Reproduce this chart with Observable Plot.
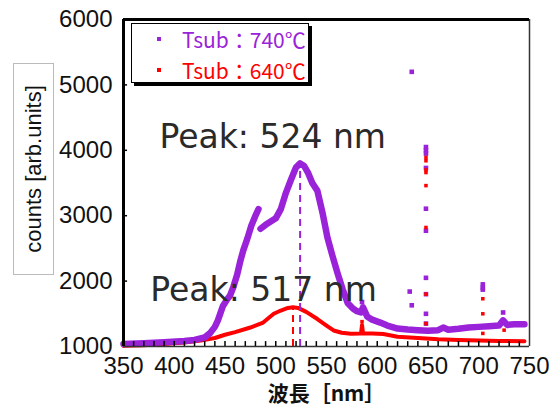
<!DOCTYPE html>
<html>
<head>
<meta charset="utf-8">
<script src="https://cdn.jsdelivr.net/npm/d3@7"></script>
<script src="https://cdn.jsdelivr.net/npm/@observablehq/plot@0.6"></script>
<style>
  html, body { margin: 0; padding: 0; background: #fff; }
  #wrap { position: relative; width: 554px; height: 407px; }
  #ylab {
    position: absolute; left: 13px; top: 63px; width: 41px; height: 212px;
    border: 1px solid #bbb; box-sizing: border-box; background: #fff;
  }
  #ylab span {
    position: absolute; left: 50%; top: 50%;
    transform: translate(-50%, -50%) rotate(-90deg);
    white-space: nowrap; font-family: "Liberation Sans", Arial, sans-serif;
    font-size: 22px; color: #111;
  }
  #legend {
    position: absolute; left: 131px; top: 23px; width: 178px; height: 60px;
    border: 1.5px solid #000; box-sizing: border-box; background: #fff;
    box-shadow: 3px 3px 0 #000;
    font-family: "Noto Sans CJK JP", sans-serif; font-size: 21px;
  }
  .row { position: absolute; left: 0; white-space: nowrap; line-height: 22px; }
  .row i { position: absolute; width: 4px; height: 4px; left: 25px; top: 9px; }
  .row b { position: absolute; left: 50px; top: 0; font-weight: normal; }
</style>
</head>
<body>
<div id="wrap">
  <div id="chart"></div>
  <div id="ylab"><span>counts [arb.units]</span></div>
  <div id="legend">
    <div class="row" style="top:4px"><i style="background:#9a22d8"></i><b style="color:#9a22d8">Tsub：740℃</b></div>
    <div class="row" style="top:35px"><i style="background:#ff0000"></i><b style="color:#ff0000">Tsub：640℃</b></div>
  </div>
</div>
<script>
// ---- data ----
const purpleColor = "#9a22d8";
const redColor = "#ff0000";

// Tsub 740 °C spectrum (two segments, broken at ~484 nm)
const purpleX1 = [350, 370, 390, 410, 420, 430, 435, 440, 443, 448, 452, 455, 458, 462, 465, 468, 472, 476, 480, 483];
const purpleY1 = [1040, 1050, 1065, 1085, 1100, 1140, 1200, 1300, 1400, 1620, 1720, 1780, 1900, 2100, 2300, 2470, 2650, 2850, 3000, 3100];
const purpleX2 = [485, 490, 495, 500, 505, 510, 515, 520, 524, 528, 532, 536, 541, 546, 551, 556, 561, 566, 571, 576, 580, 584, 586, 590, 595, 603, 610, 620, 630, 640, 650, 660, 665, 670, 680, 690, 700, 710, 720, 724, 728, 735, 745];
const purpleY2 = [2800, 2860, 2910, 2960, 3100, 3350, 3550, 3740, 3800, 3760, 3650, 3500, 3380, 3050, 2660, 2380, 2115, 1870, 1660, 1580, 1540, 1520, 1600, 1460, 1410, 1366, 1320, 1275, 1260, 1250, 1240, 1250, 1290, 1255, 1270, 1290, 1300, 1310, 1320, 1400, 1330, 1340, 1340];

// Tsub 640 °C spectrum
const redX = [350, 370, 390, 410, 426, 440, 450, 460, 475, 487, 498, 505, 512, 517, 522, 530, 541, 550, 557, 565, 574, 584, 585, 586, 595, 606, 620, 640, 660, 680, 700, 720, 745];
const redY = [1010, 1020, 1040, 1060, 1090, 1130, 1180, 1220, 1290, 1360, 1500, 1550, 1590, 1600, 1590, 1530, 1420, 1320, 1245, 1210, 1195, 1200, 1330, 1200, 1200, 1190, 1150, 1130, 1110, 1100, 1090, 1085, 1080];

// isolated spike points
const purpleSpikeX = [634, 632, 634, 648, 648, 648, 648, 648, 648, 648, 648, 648, 648, 704, 704, 704, 724, 585];
const purpleSpikeY = [5200, 1840, 1630, 4050, 4000, 3950, 3730, 3107, 2770, 2050, 1800, 1500, 1350, 1950, 1900, 1870, 1520, 1680];
const redSpikeX = [648, 648, 648, 648, 648, 648, 648, 648, 704, 704, 704, 725, 585];
const redSpikeY = [3890, 3840, 3700, 3660, 3460, 2820, 1800, 1350, 1730, 1500, 1200, 1250, 1380];

// peak markers and annotations
const peakX = [524, 517];
const peakY = [3800, 1600];
const peakColor = [purpleColor, redColor];
const annText = ["Peak: 524 nm", "Peak: 517 nm"];
const annX = [497, 488];
const annY = [4190, 1855];

// axes
const xTicks = [350, 400, 450, 500, 550, 600, 650, 700, 750];
const yTicks = [1000, 2000, 3000, 4000, 5000, 6000];
const xMinor = [360,370,380,390,400,410,420,430,440,450,460,470,480,490,500,510,520,530,540,550,560,570,580,590,600,610,620,630,640,650,660,670,680,690,700,710,720,730,740];
const yMinor = [2000, 3000, 4000, 5000];
const xLabel = "波長［nm］";

// ---- tables ----
const p1 = purpleX1.map((x, i) => ({x, y: purpleY1[i]}));
const p2 = purpleX2.map((x, i) => ({x, y: purpleY2[i]}));
const red = redX.map((x, i) => ({x, y: redY[i]}));
const ps = purpleSpikeX.map((x, i) => ({x, y: purpleSpikeY[i]}));
const rs = redSpikeX.map((x, i) => ({x, y: redSpikeY[i]}));
const peaks = peakX.map((x, i) => ({x, y: peakY[i], c: peakColor[i]}));
const ann = annText.map((t, i) => ({t, x: annX[i], y: annY[i]}));

const chart = Plot.plot({
  width: 554, height: 407,
  marginLeft: 123, marginRight: 25, marginTop: 19, marginBottom: 61,
  style: {fontFamily: "Liberation Sans, Arial, sans-serif", background: "#fff", color: "#111"},
  x: {domain: [350, 750]},
  y: {domain: [1000, 6000]},
  marks: [
    Plot.line(red, {x: "x", y: "y", stroke: redColor, strokeWidth: 4}),
    Plot.line(p1, {x: "x", y: "y", stroke: purpleColor, strokeWidth: 6.5}),
    Plot.line(p2, {x: "x", y: "y", stroke: purpleColor, strokeWidth: 6.5}),
    Plot.dot(ps, {x: "x", y: "y", symbol: "square", r: 2.6, fill: purpleColor}),
    Plot.dot(rs, {x: "x", y: "y", symbol: "square", r: 2, fill: redColor}),
    Plot.ruleX(peaks, {x: "x", y1: 1000, y2: "y", stroke: "c", strokeWidth: 2, strokeDasharray: "7,5"}),
    Plot.text(ann, {x: "x", y: "y", text: "t", fontSize: 33, fill: "#2a2a2a",
      fontFamily: "DejaVu Sans, sans-serif"}),
    // frame
    Plot.ruleY([1000], {stroke: "#333", strokeWidth: 1.5}),
    Plot.ruleX([750], {stroke: "#333", strokeWidth: 1.5}),
    Plot.ruleX([350], {stroke: "#000", strokeWidth: 3}),
    Plot.ruleY([6000], {stroke: "#000", strokeWidth: 3}),
    // inward ticks
    Plot.ruleX(xMinor, {y1: 1000, y2: 1075, stroke: "#000", strokeWidth: 1.5}),
    Plot.ruleY(yMinor, {x1: 350, x2: 354, stroke: "#000", strokeWidth: 1.5}),
    Plot.axisX(xTicks, {tickSize: 0, tickPadding: 10, fontSize: 24, label: null, fill: "#111", tickFormat: d => String(d)}),
    Plot.axisY(yTicks, {tickSize: 0, tickPadding: 11, fontSize: 24, label: null, fill: "#111", tickFormat: d => String(d)}),
    Plot.text([xLabel], {frameAnchor: "bottom", dy: 48, lineAnchor: "middle", fontSize: 21, fontWeight: "bold",
      fontFamily: "Noto Sans CJK JP, sans-serif", fill: "#111"})
  ]
});
document.getElementById("chart").appendChild(chart);
</script>
</body>
</html>
